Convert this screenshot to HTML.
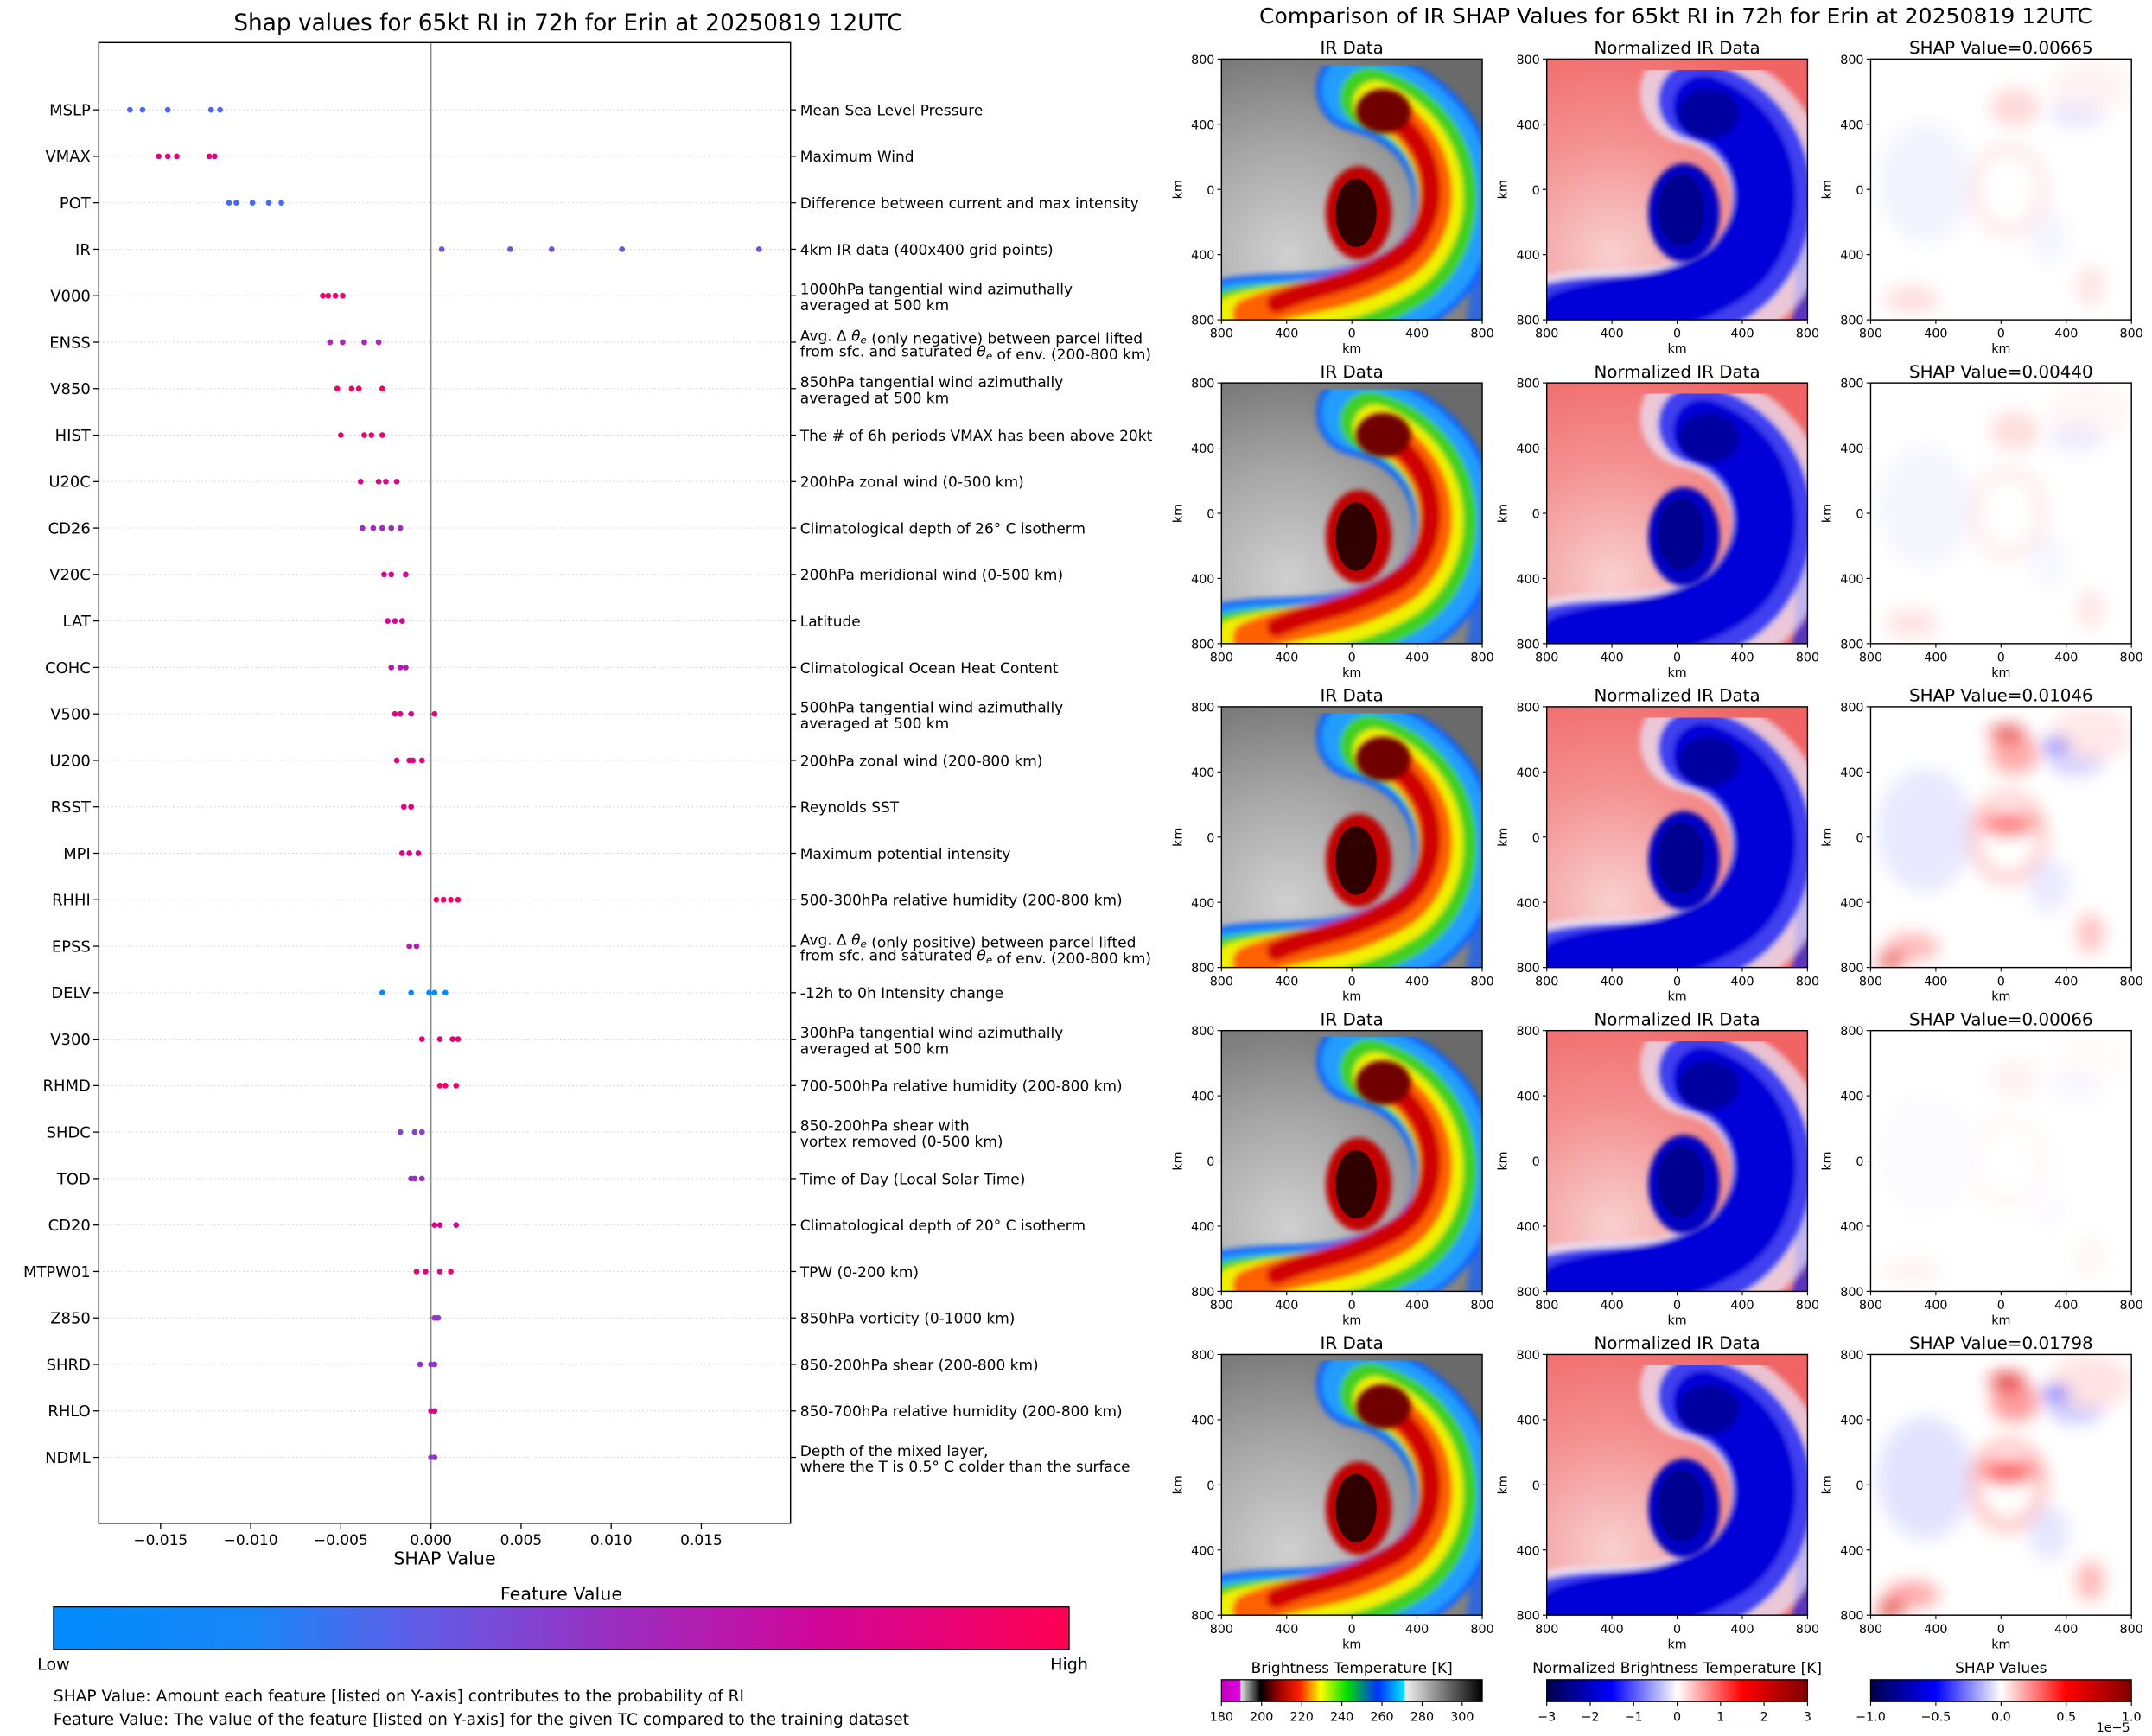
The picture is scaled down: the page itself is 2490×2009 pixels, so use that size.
<!DOCTYPE html>
<html><head><meta charset="utf-8"><style>
html,body{margin:0;padding:0;background:#fff}
svg{display:block;font-family:"DejaVu Sans","Liberation Sans",sans-serif}
</style></head><body>
<svg id="root" width="2490" height="2009" viewBox="0 0 1568 1265" xmlns="http://www.w3.org/2000/svg">
<defs>
<linearGradient id="fvGrad" x1="0" x2="1" y1="0" y2="0">
<stop offset="0" stop-color="#008bfc"/><stop offset="0.2" stop-color="#1a86f6"/><stop offset="0.35" stop-color="#5d5fe8"/><stop offset="0.55" stop-color="#9a2fc0"/><stop offset="0.75" stop-color="#d0069a"/><stop offset="1" stop-color="#ff0052"/>
</linearGradient>
<linearGradient id="btGrad" x1="0" x2="1">
<stop offset="0" stop-color="#c000c0"/><stop offset="0.07" stop-color="#e000e0"/><stop offset="0.075" stop-color="#e0e0e0"/><stop offset="0.15" stop-color="#000"/><stop offset="0.22" stop-color="#a00000"/><stop offset="0.3" stop-color="#ff2000"/><stop offset="0.38" stop-color="#ffff00"/><stop offset="0.48" stop-color="#00e000"/><stop offset="0.6" stop-color="#0030ff"/><stop offset="0.7" stop-color="#00e8ff"/><stop offset="0.705" stop-color="#f0f0f0"/><stop offset="1" stop-color="#000"/>
</linearGradient>
<linearGradient id="seisGrad" x1="0" x2="1">
<stop offset="0" stop-color="#00004c"/><stop offset="0.25" stop-color="#0000ff"/><stop offset="0.5" stop-color="#ffffff"/><stop offset="0.75" stop-color="#ff0000"/><stop offset="1" stop-color="#800000"/>
</linearGradient>
<radialGradient id="irBg" cx="0.25" cy="0.75" r="0.9"><stop offset="0" stop-color="#d0d0d0"/><stop offset="0.45" stop-color="#a8a8a8"/><stop offset="1" stop-color="#6a6a6a"/></radialGradient>
<radialGradient id="nBg" cx="0.25" cy="0.75" r="0.9"><stop offset="0" stop-color="#f8d0d0"/><stop offset="0.5" stop-color="#f49090"/><stop offset="1" stop-color="#f06464"/></radialGradient>
<filter id="blur2"><feGaussianBlur stdDeviation="2"/></filter>
<filter id="blur6"><feGaussianBlur stdDeviation="6"/></filter>
<clipPath id="panelClip"><rect x="0" y="0" width="190" height="190"/></clipPath>
<g id="irImg">
<rect width="190" height="190" fill="url(#irBg)"/>
<g clip-path="url(#panelClip)" fill="none" stroke-linecap="round" filter="url(#blur2)">
<path d="M178 60 C192 110,190 160,185 195" stroke="#1060ff" stroke-width="14" stroke-opacity="0.7"/>
<path d="M100 22 C185 40,190 140,135 168 S40 182,0 192" stroke="#1060ff" stroke-width="62"/>
<path d="M100 22 C185 40,190 140,135 168 S40 182,0 192" stroke="#30d8ff" stroke-width="54" stroke-opacity="0.5"/>
<path d="M108 28 C178 48,180 135,130 163 S45 180,5 190" stroke="#40d020" stroke-width="44"/>
<path d="M112 32 C172 55,174 132,128 158 S50 176,10 188" stroke="#f0f000" stroke-width="32"/>
<path d="M115 35 C168 60,168 130,125 153 S60 170,20 186" stroke="#ff6000" stroke-width="24"/>
<path d="M118 38 C165 65,162 128,122 148 S75 163,40 178" stroke="#d00000" stroke-width="14"/>
</g>
<ellipse cx="100" cy="112" rx="24" ry="34" fill="#c00000" filter="url(#blur2)"/>
<ellipse cx="98" cy="112" rx="15" ry="25" fill="#300000"/>
<ellipse cx="118" cy="38" rx="20" ry="16" fill="#700000" filter="url(#blur2)"/>
</g>
<g id="nImg">
<rect width="190" height="190" fill="url(#nBg)"/>
<g clip-path="url(#panelClip)" fill="none" stroke-linecap="round" filter="url(#blur2)">
<path d="M178 60 C192 110,190 160,185 195" stroke="#2020e0" stroke-width="14" stroke-opacity="0.7"/>
<path d="M105 25 C185 40,190 140,135 170 S40 185,0 195" stroke="#e8e8ff" stroke-width="74" stroke-opacity="0.7"/>
<path d="M110 30 C178 48,180 135,130 165 S45 182,5 192" stroke="#4040f0" stroke-width="58"/>
<path d="M114 34 C172 55,172 132,128 158 S55 178,15 190" stroke="#0000d8" stroke-width="44"/>
</g>
<ellipse cx="100" cy="112" rx="26" ry="36" fill="#0000c0" filter="url(#blur2)"/>
<ellipse cx="98" cy="110" rx="17" ry="26" fill="#000090"/>
<ellipse cx="118" cy="40" rx="22" ry="18" fill="#0000a0" filter="url(#blur2)"/>
</g>
</defs>
</svg>
<script>
const NS='http://www.w3.org/2000/svg';
const root=document.getElementById('root');
// ===== left chart data =====
const features=['MSLP','VMAX','POT','IR','V000','ENSS','V850','HIST','U20C','CD26','V20C','LAT','COHC','V500','U200','RSST','MPI','RHHI','EPSS','DELV','V300','RHMD','SHDC','TOD','CD20','MTPW01','Z850','SHRD','RHLO','NDML'];
const descriptions=['Mean Sea Level Pressure','Maximum Wind','Difference between current and max intensity','4km IR data (400x400 grid points)','1000hPa tangential wind azimuthally|averaged at 500 km','Avg. Δ θe (only negative) between parcel lifted|from sfc. and saturated θe of env. (200-800 km)','850hPa tangential wind azimuthally|averaged at 500 km','The # of 6h periods VMAX has been above 20kt','200hPa zonal wind (0-500 km)','Climatological depth of 26° C isotherm','200hPa meridional wind (0-500 km)','Latitude','Climatological Ocean Heat Content','500hPa tangential wind azimuthally|averaged at 500 km','200hPa zonal wind (200-800 km)','Reynolds SST','Maximum potential intensity','500-300hPa relative humidity (200-800 km)','Avg. Δ θe (only positive) between parcel lifted|from sfc. and saturated θe of env. (200-800 km)','-12h to 0h Intensity change','300hPa tangential wind azimuthally|averaged at 500 km','700-500hPa relative humidity (200-800 km)','850-200hPa shear with|vortex removed (0-500 km)','Time of Day (Local Solar Time)','Climatological depth of 20° C isotherm','TPW (0-200 km)','850hPa vorticity (0-1000 km)','850-200hPa shear (200-800 km)','850-700hPa relative humidity (200-800 km)','Depth of the mixed layer,|where the T is 0.5° C colder than the surface'];
const shapValues=[
[-0.0167,-0.0160,-0.0146,-0.0122,-0.0117],
[-0.0151,-0.0146,-0.0141,-0.0123,-0.0120],
[-0.0112,-0.0108,-0.0099,-0.0090,-0.0083],
[0.0006,0.0044,0.0067,0.0106,0.0182],
[-0.0060,-0.0057,-0.0053,-0.0049],
[-0.0056,-0.0049,-0.0037,-0.0029],
[-0.0052,-0.0044,-0.0040,-0.0027],
[-0.0050,-0.0037,-0.0033,-0.0027],
[-0.0039,-0.0029,-0.0025,-0.0019],
[-0.0038,-0.0032,-0.0027,-0.0022,-0.0017],
[-0.0026,-0.0022,-0.0014],
[-0.0024,-0.0020,-0.0016],
[-0.0022,-0.0017,-0.0014],
[-0.0020,-0.0017,-0.0011,0.0002],
[-0.0019,-0.0012,-0.0010,-0.0005],
[-0.0015,-0.0011],
[-0.0016,-0.0012,-0.0007],
[0.0003,0.0007,0.0011,0.0015],
[-0.0012,-0.0008],
[-0.0027,-0.0011,-0.0001,0.0002,0.0008],
[-0.0005,0.0005,0.0012,0.0015],
[0.0005,0.0008,0.0014],
[-0.0017,-0.0009,-0.0005],
[-0.0011,-0.0009,-0.0005],
[0.0002,0.0005,0.0014],
[-0.0008,-0.0003,0.0005,0.0011],
[0.0002,0.0004],
[-0.0006,0.0000,0.0002],
[0.0000,0.0002],
[0.0000,0.0002]];
const featureVals=[0.32,0.82,0.3,0.4,0.92,0.6,0.93,0.93,0.8,0.55,0.76,0.74,0.66,0.85,0.85,0.85,0.78,0.93,0.62,0.04,0.86,0.9,0.48,0.55,0.78,0.86,0.52,0.52,0.8,0.5];
const xTicks=[-0.015,-0.010,-0.005,0.000,0.005,0.010,0.015];
const xTickLabels=['−0.015','−0.010','−0.005','0.000','0.005','0.010','0.015'];

const AX={l:72,r:576,t:31,b:1110};
const xScale=v=>314+v*13133;
const yScale=i=>80+i*(1062-80)/29;
function mk(tag,attrs,parent){const e=document.createElementNS(NS,tag);for(const k in attrs)e.setAttribute(k,attrs[k]);(parent||root).appendChild(e);return e;}
function txt(str,x,y,size,anchor,parent,extra){const t=mk('text',Object.assign({x:x,y:y,'font-size':size,'text-anchor':anchor||'start',fill:'#000'},extra||{}),parent);t.textContent=str;return t;}
const stops=[[0,[0,139,252]],[0.2,[26,134,246]],[0.35,[93,95,232]],[0.55,[154,47,192]],[0.75,[208,6,154]],[1,[255,0,82]]];
function cmap(v){for(let i=1;i<stops.length;i++){if(v<=stops[i][0]){const a=stops[i-1],b=stops[i],f=(v-a[0])/(b[0]-a[0]);const c=a[1].map((x,j)=>Math.round(x+(b[1][j]-x)*f));return 'rgb('+c.join(',')+')';}}return 'rgb(255,0,82)';}

let t=txt('Shap values for 65kt RI in 72h for Erin at 20250819 12UTC',414,22,16.6,'middle');

const plot=mk('g',{});


features.forEach((f,i)=>{
  const g=mk('line',{x1:AX.l,x2:AX.r,y1:yScale(i),y2:yScale(i),stroke:'#ccc','stroke-width':0.6,'stroke-dasharray':'1,2'},plot);
  
  
});
const zl=mk('line',{x1:xScale(0),x2:xScale(0),y1:AX.t,y2:AX.b,stroke:'#888','stroke-width':1},plot);


const fr=mk('rect',{x:AX.l,y:AX.t,width:AX.r-AX.l,height:AX.b-AX.t,fill:'none',stroke:'#000','stroke-width':0.9},plot);


features.forEach((f,i)=>{
  const y=yScale(i);
  const lbl=txt(f,66,y+4,11.3,'end',plot);
  
  
  mk('line',{x1:AX.l-4,x2:AX.l,y1:y,y2:y,stroke:'#000','stroke-width':0.8},plot);
  mk('line',{x1:AX.r,x2:AX.r+4,y1:y,y2:y,stroke:'#000','stroke-width':0.8},plot);
  const lines=descriptions[i].split('|');
  const dy0=lines.length===1?4:-1;
  lines.forEach((ln,k)=>{
    const tt=mk('text',{x:583,y:y+dy0+k*11.5,'font-size':10.7,fill:'#000'},plot);
    const parts=ln.split('θe');
    parts.forEach((p,pi)=>{const s=mk('tspan',{},tt);s.textContent=p;if(pi<parts.length-1){const th=mk('tspan',{'font-style':'italic'},tt);th.textContent='θ';const sub=mk('tspan',{'font-size':7.5,dy:2,'font-style':'italic'},tt);sub.textContent='e';const back=mk('tspan',{dy:-2},tt);back.textContent='';}});
    
    
  });
  shapValues[i].forEach(v=>{
    const c=mk('circle',{cx:xScale(v),cy:y,r:2.1,fill:cmap(featureVals[i])},plot);
    
    
  });
});
xTicks.forEach((v,k)=>{
  mk('line',{x1:xScale(v),x2:xScale(v),y1:AX.b,y2:AX.b+4,stroke:'#000','stroke-width':0.8},plot);
  const l=txt(xTickLabels[k],xScale(v),AX.b+16,10.7,'middle',plot);
  
  
});
t=txt('SHAP Value',324,1140,13,'middle');
t=txt('Feature Value',409,1166,13,'middle');
let cb=mk('rect',{x:39,y:1171,width:740,height:31,fill:'url(#fvGrad)',stroke:'#000','stroke-width':0.8});

t=txt('Low',39,1217,12,'middle');
t=txt('High',779,1217,12,'middle');
t=txt('SHAP Value: Amount each feature [listed on Y-axis] contributes to the probability of RI',39,1240,11.7,'start');
t=txt('Feature Value: The value of the feature [listed on Y-axis] for the given TC compared to the training dataset',39,1257,11.7,'start');

// ===== right panels =====
t=txt('Comparison of IR SHAP Values for 65kt RI in 72h for Erin at 20250819 12UTC',1221,17,15.8,'middle');

const shapTitles=['0.00665','0.00440','0.01046','0.00066','0.01798'];
const shapStrength=[0.35,0.3,0.75,0.12,0.9];
const colX=[890,1127,1363];
const rowY=[43,279,515,751,987];
const kmTicks=['800','400','0','400','800'];
function panel(ci,ri){
  const x0=colX[ci],y0=rowY[ri];
  const g=mk('g',{transform:'translate('+x0+','+y0+')'});
  
  
  const inner=mk('g',{'clip-path':'url(#panelClip)'},g);
  if(ci===0){mk('use',{href:'#irImg'},inner);}
  else if(ci===1){mk('use',{href:'#nImg'},inner);}
  else{
    mk('rect',{width:190,height:190,fill:'#fff'},inner);
    const s=shapStrength[ri];
    const bl=mk('g',{filter:'url(#blur6)'},inner);
    mk('ellipse',{cx:40,cy:90,rx:35,ry:45,fill:'#e0e0ff','fill-opacity':s},bl);
    mk('ellipse',{cx:100,cy:95,rx:25,ry:30,fill:'none',stroke:'#ffa0a0','stroke-width':8,'stroke-opacity':s*0.8},bl);
    mk('ellipse',{cx:105,cy:35,rx:18,ry:14,fill:'#ff9090','fill-opacity':s},bl);
    mk('ellipse',{cx:150,cy:40,rx:20,ry:10,fill:'#a0a0ff','fill-opacity':s*0.7},bl);
    mk('ellipse',{cx:130,cy:130,rx:15,ry:20,fill:'#d0d0ff','fill-opacity':s*0.6},bl);
    mk('ellipse',{cx:160,cy:20,rx:30,ry:20,fill:'#ffe0e0','fill-opacity':s},bl);
    mk('ellipse',{cx:30,cy:175,rx:20,ry:10,fill:'#ffa0a0','fill-opacity':s},bl);
    mk('ellipse',{cx:160,cy:165,rx:10,ry:15,fill:'#ffb0b0','fill-opacity':s},bl);
    if(s>0.6){
      mk('ellipse',{cx:100,cy:85,rx:22,ry:8,fill:'#ff2020','fill-opacity':s*0.8},bl);
      mk('ellipse',{cx:100,cy:20,rx:14,ry:6,fill:'#e00000','fill-opacity':s},bl);
      mk('ellipse',{cx:135,cy:28,rx:10,ry:5,fill:'#4040ff','fill-opacity':s},bl);
      mk('ellipse',{cx:15,cy:185,rx:10,ry:6,fill:'#e00000','fill-opacity':s},bl);
    }
  }
  mk('rect',{width:190,height:190,fill:'none',stroke:'#000','stroke-width':0.9},g);
  kmTicks.forEach((lab,k)=>{
    const p=k*47.5;
    mk('line',{x1:-3,x2:0,y1:p,y2:p,stroke:'#000','stroke-width':0.7},g);
    txt(lab,-5,p+3.5,9,'end',g);
    mk('line',{x1:p,x2:p,y1:190,y2:193,stroke:'#000','stroke-width':0.7},g);
    txt(lab,p,203,9,'middle',g);
  });
  txt('km',95,214,9,'middle',g);
  txt('km',0,0,9,'middle',g,{transform:'translate(-29,95) rotate(-90)'});
  const title=ci===0?'IR Data':ci===1?'Normalized IR Data':'SHAP Value='+shapTitles[ri];
  const tt=txt(title,95,-4,12.5,'middle',g);
  
  
}
for(let r=0;r<5;r++)for(let c=0;c<3;c++)panel(c,r);

const cbTitles=['Brightness Temperature [K]','Normalized Brightness Temperature [K]','SHAP Values'];
const cbFills=['url(#btGrad)','url(#seisGrad)','url(#seisGrad)'];
const cbTicks=[['180','200','220','240','260','280','300'],['−3','−2','−1','0','1','2','3'],['−1.0','−0.5','0.0','0.5','1.0']];
const cbTickPos=[[0,20/130,40/130,60/130,80/130,100/130,120/130],[0,1/6,2/6,3/6,4/6,5/6,1],[0,0.25,0.5,0.75,1]];
[0,1,2].forEach(ci=>{
  const x0=colX[ci],w=190,y0=1224,h=16;
  const g=mk('g',{});
  
  
  txt(cbTitles[ci],x0+w/2,y0-5,10.7,'middle',g);
  mk('rect',{x:x0,y:y0,width:w,height:h,fill:cbFills[ci],stroke:'#000','stroke-width':0.8},g);
  cbTicks[ci].forEach((lab,k)=>{
    const px=x0+cbTickPos[ci][k]*w;
    mk('line',{x1:px,x2:px,y1:y0+h,y2:y0+h+3,stroke:'#000','stroke-width':0.7},g);
    txt(lab,px,y0+h+14,9,'middle',g);
  });
});
t=txt('1e−5',1552,1262,9,'end');
</script>
</body></html>
